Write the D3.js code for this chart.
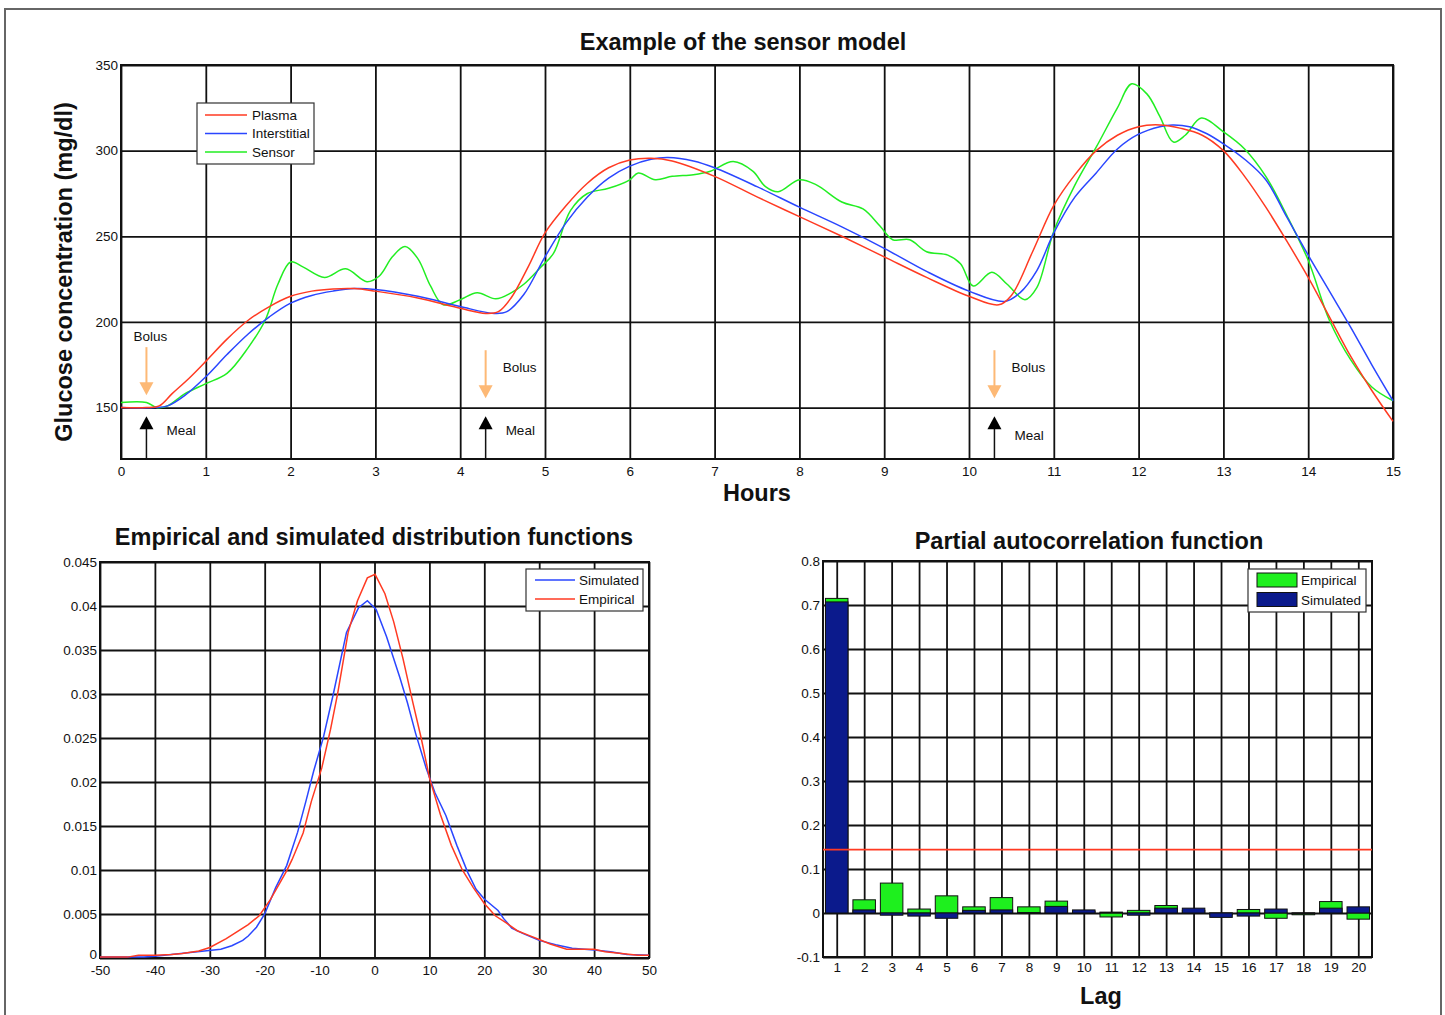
<!DOCTYPE html>
<html>
<head>
<meta charset="utf-8">
<script src="https://cdn.jsdelivr.net/npm/d3@7"></script>
<style>
  body { margin: 0; background: #fff; }
  text { font-family: "Liberation Sans", Arial, Helvetica, sans-serif; }
</style>
</head>
<body>
<div id="chart"></div>
<script>
// ---- top chart: glucose traces (hours, mg/dl)
const plasmaT = [0, 0.3, 0.45, 0.6, 0.8, 1, 1.25, 1.5, 1.75, 2, 2.25, 2.5, 2.75, 3, 3.5, 4, 4.3, 4.45, 4.6, 4.8, 5, 5.25, 5.5, 5.75, 6, 6.25, 6.5, 7, 7.5, 8, 8.5, 9, 9.5, 10, 10.35, 10.5, 10.75, 11, 11.25, 11.5, 11.75, 12, 12.25, 12.5, 12.75, 13, 13.25, 13.5, 13.75, 14, 14.25, 14.5, 14.75, 15];
const plasmaV = [150, 150, 151, 158, 167, 177, 190, 201, 209, 215, 218, 219.3, 219.5, 218, 214, 208, 205, 206, 214, 232, 252, 268, 281, 290, 294.5, 295.5, 294, 285, 273, 261.5, 250, 238, 226, 215, 210, 215.5, 241, 268, 286, 300, 309, 314, 315, 313, 309, 300, 285, 267, 247, 226, 203, 180, 160, 142];

const interT = [0, 0.4, 0.55, 0.75, 1, 1.25, 1.5, 1.75, 2, 2.25, 2.5, 2.75, 3, 3.5, 4, 4.4, 4.55, 4.75, 5, 5.25, 5.5, 5.75, 6, 6.25, 6.45, 6.75, 7, 7.5, 8, 8.5, 9, 9.5, 10, 10.42, 10.6, 10.8, 11, 11.25, 11.5, 11.75, 12, 12.25, 12.4, 12.6, 12.8, 13, 13.25, 13.5, 13.75, 14, 14.25, 14.5, 14.75, 15];
const interV = [150, 150, 151, 157, 168, 181, 193, 203, 211, 215.5, 218, 219.5, 219, 215, 209, 205, 206, 216, 238, 258, 273, 284, 291, 295, 296, 294, 290, 279, 267, 255.5, 243, 229.5, 218, 212, 217, 230, 252, 273, 287, 301, 309.6, 314, 315, 314, 310, 304, 295, 283, 261, 239, 218, 197, 175, 154];

const sensorT = [0, 0.3, 0.42, 0.55, 0.75, 1, 1.25, 1.5, 1.7, 1.85, 2, 2.15, 2.4, 2.65, 2.9, 3.05, 3.2, 3.35, 3.5, 3.65, 3.8, 4.0, 4.2, 4.42, 4.6, 4.75, 4.95, 5.1, 5.3, 5.5, 5.75, 6.0, 6.1, 6.3, 6.5, 6.75, 6.95, 7.22, 7.45, 7.6, 7.75, 8.0, 8.2, 8.5, 8.75, 8.95, 9.1, 9.3, 9.5, 9.75, 9.9, 10.05, 10.27, 10.45, 10.66, 10.8, 11, 11.25, 11.5, 11.75, 11.92, 12.1, 12.25, 12.41, 12.55, 12.74, 13, 13.25, 13.5, 13.75, 14, 14.25, 14.5, 14.75, 15];
const sensorV = [153, 153, 150, 151, 158, 164, 170, 185, 201, 222, 235, 232, 226, 231, 223.5, 227, 238, 244, 237, 221, 210, 213, 217, 213.5, 217, 222, 232, 240, 265, 275, 278, 283, 287, 283, 285, 286, 288, 293.6, 288, 279, 276, 283, 280, 270, 266, 256, 248, 248, 241, 239, 234, 221, 229, 222, 213, 220, 253, 280, 302, 325, 339, 333, 320, 305, 309, 319, 311, 301, 285, 262, 236, 201, 178, 162, 154];

const hourTicks = d3.range(0, 16);
const glucoseTicks = [150, 200, 250, 300, 350];
const eventHours = [0.3, 4.3, 10.3];

// ---- bottom left: distribution functions
const empX = [-50, -45, -43, -40, -37, -35, -32, -30, -27, -25, -23, -21, -19, -17, -16, -15, -13, -11.5, -9.6, -8, -6.7, -4.8, -3.1, -1.3, 0.1, 1.9, 3.5, 5.2, 7, 8.5, 10, 12, 14, 16, 18, 20, 22, 24, 26, 28, 30, 32, 35, 37, 40, 42, 45, 48, 50];
const empY = [0.0001, 0.0001, 0.0003, 0.0003, 0.0004, 0.0005, 0.0008, 0.0012, 0.0022, 0.003, 0.0038, 0.0048, 0.0066, 0.0088, 0.0099, 0.0112, 0.0142, 0.0178, 0.0216, 0.026, 0.0301, 0.037, 0.0406, 0.0432, 0.0436, 0.0414, 0.0382, 0.034, 0.029, 0.025, 0.0205, 0.0163, 0.0128, 0.0100, 0.0080, 0.0062, 0.0048, 0.0040, 0.0031, 0.0026, 0.0021, 0.0016, 0.001, 0.001, 0.001, 0.0007, 0.0005, 0.0003, 0.0003];
const simX = [-50, -45, -42, -40, -37, -34, -31, -28, -26, -24, -23, -21.5, -20, -18, -16, -14, -12.5, -11.1, -9.3, -7.5, -5.1, -2.9, -1.3, 0.3, 2.2, 4.6, 6, 7.5, 9.4, 11, 13, 15, 17, 18.5, 20, 22.5, 23.5, 25, 27, 30, 33, 36, 40, 43, 46, 50];
const simY = [0.0001, 0.0001, 0.0001, 0.0002, 0.0004, 0.0006, 0.0008, 0.001, 0.0014, 0.002, 0.0025, 0.0035, 0.005, 0.008, 0.0105, 0.0143, 0.0178, 0.0212, 0.0251, 0.03, 0.037, 0.0398, 0.0406, 0.0396, 0.0365, 0.0319, 0.029, 0.0255, 0.0216, 0.0188, 0.0162, 0.0128, 0.0097, 0.0078, 0.0067, 0.0054, 0.0045, 0.0034, 0.0028, 0.002, 0.0015, 0.0011, 0.0009, 0.0007, 0.0004, 0.0003];
const errTicks = d3.range(-50, 51, 10);
const densTicks = d3.range(0, 10).map(i => i * 0.005);

// ---- bottom right: partial autocorrelation
const lags = d3.range(1, 21);
const pacfEmpirical = [0.715, 0.030, 0.068, 0.009, 0.039, 0.014, 0.035, 0.014, 0.027, 0.004, -0.009, 0.006, 0.017, 0.006, -0.004, 0.008, -0.012, -0.004, 0.026, -0.014];
const pacfSimulated = [0.707, 0.007, -0.005, -0.007, -0.012, 0.006, 0.007, 0.001, 0.015, 0.007, 0.002, -0.005, 0.011, 0.011, -0.010, -0.007, 0.009, -0.002, 0.011, 0.014];
const pacfBound = 0.144;
const pacfTicks = d3.range(-1, 9).map(i => i / 10);

const RED = '#ff3a22', BLUE = '#2a46ff', GREEN = '#22ee22';
const BAR_GREEN = '#1ef01e', BAR_BLUE = '#0b1a8c', ORANGE = '#fdb976';

const svg = d3.select('#chart').append('svg')
  .attr('width', 1445)
  .attr('height', 1015);

svg.append('rect').attr('width', 1445).attr('height', 1015).style('fill', '#fff');
svg.append('rect')
  .attr('x', 5).attr('y', 9)
  .attr('width', 1436).attr('height', 1014)
  .style('fill', 'none').style('stroke', '#666').style('stroke-width', 2);

function num(d) { return String(+d.toFixed(4)); }

// draws grid through the axes, labels and the frame
function gridPanel(left, top, w, h, x, y, xTicks, yTicks, xPad) {
  const g = svg.append('g').attr('transform', `translate(${left},${top})`);
  const gx = g.append('g')
    .attr('transform', `translate(0,${h})`)
    .call(d3.axisBottom(x).tickValues(xTicks).tickSize(-h).tickPadding(xPad).tickFormat(num));
  const gy = g.append('g')
    .call(d3.axisLeft(y).tickValues(yTicks).tickSize(-w).tickPadding(3).tickFormat(num));
  [gx, gy].forEach(a => {
    a.select('.domain').remove();
    a.selectAll('line').style('stroke', '#111').style('stroke-width', 1.8);
    a.selectAll('text').style('font-size', '13.5px').style('fill', '#111')
      .style('font-family', '"Liberation Sans", Arial, sans-serif');
  });
  g.append('rect')
    .attr('width', w).attr('height', h)
    .style('fill', 'none').style('stroke', '#111').style('stroke-width', 2);
  g.yAxis = gy;
  return g;
}

function boldText(x, y, s, rotate) {
  const t = svg.append('text')
    .attr('text-anchor', 'middle')
    .style('font-size', '23.5px').style('font-weight', 'bold').style('fill', '#111')
    .text(s);
  if (rotate) t.attr('transform', `translate(${x},${y}) rotate(-90)`);
  else t.attr('x', x).attr('y', y);
}

function legend(x, y, w, h) {
  const g = svg.append('g').attr('transform', `translate(${x},${y})`);
  g.append('rect').attr('width', w).attr('height', h)
    .style('fill', '#fff').style('stroke', '#333').style('stroke-width', 1.2);
  return g;
}

// ================= top chart =================
{
  const left = 121, top = 65, w = 1272, h = 394;
  const x = d3.scaleLinear().domain([0, 15]).range([0, w]);
  const y = d3.scaleLinear().domain([120, 350]).range([h, 0]);
  const g = gridPanel(left, top, w, h, x, y, hourTicks, glucoseTicks, 7);

  const line = d3.line()
    .x(d => x(d[0]))
    .y(d => y(d[1]))
    .curve(d3.curveCatmullRom.alpha(0.5));

  const series = [
    { t: sensorT, v: sensorV, c: GREEN },
    { t: interT, v: interV, c: BLUE },
    { t: plasmaT, v: plasmaV, c: RED }
  ];
  series.forEach(s => {
    g.append('path')
      .attr('d', line(d3.zip(s.t, s.v)))
      .style('fill', 'none').style('stroke', s.c).style('stroke-width', 1.5);
  });

  // bolus / meal arrows
  eventHours.forEach((hr, i) => {
    const ax = x(hr);
    const bTop = i === 0 ? y(185.3) : y(183.5);
    const bTip = i === 0 ? y(157.2) : y(155.4);
    g.append('line').attr('x1', ax).attr('x2', ax).attr('y1', bTop).attr('y2', bTip - 10)
      .style('stroke', ORANGE).style('stroke-width', 2);
    g.append('path')
      .attr('d', `M${ax - 7},${bTip - 13}L${ax + 7},${bTip - 13}L${ax},${bTip}Z`)
      .style('fill', ORANGE);
    const mTip = y(145);
    g.append('line').attr('x1', ax).attr('x2', ax).attr('y1', h).attr('y2', mTip + 10)
      .style('stroke', '#111').style('stroke-width', 1.5);
    g.append('path')
      .attr('d', `M${ax - 7},${mTip + 13}L${ax + 7},${mTip + 13}L${ax},${mTip}Z`)
      .style('fill', '#000');

    const bx = i === 0 ? ax - 13 : ax + 17;
    const by = i === 0 ? bTop - 6 : y(170.5);
    g.append('text').attr('x', bx).attr('y', by).style('font-size', '13.5px').style('fill', '#111').text('Bolus');
    g.append('text').attr('x', ax + 20).attr('y', i === 2 ? y(131) : y(134))
      .style('font-size', '13.5px').style('fill', '#111').text('Meal');
  });

  const lg = legend(197, 103, 117, 61);
  [['Plasma', RED], ['Interstitial', BLUE], ['Sensor', GREEN]].forEach((d, i) => {
    const ly = 12 + i * 18.5;
    lg.append('line').attr('x1', 8).attr('x2', 50).attr('y1', ly).attr('y2', ly)
      .style('stroke', d[1]).style('stroke-width', 1.3);
    lg.append('text').attr('x', 55).attr('y', ly + 4.5).style('font-size', '13.5px').style('fill', '#111').text(d[0]);
  });

  boldText(743, 50, 'Example of the sensor model');
  boldText(757, 501, 'Hours');
  boldText(72, 272, 'Glucose concentration (mg/dl)', true);
}

// ================= distribution functions =================
{
  const left = 100, top = 562, w = 549, h = 396;
  const x = d3.scaleLinear().domain([-50, 50]).range([0, w]);
  const y = d3.scaleLinear().domain([0, 0.045]).range([h, 0]);
  const g = gridPanel(left, top, w, h, x, y, errTicks, densTicks, 7);
  // lift the "0" label a little so it clears the "-50" below it
  g.yAxis.selectAll('.tick text').filter(d => d === 0).attr('dy', '0.05em');

  const line = d3.line().x(d => x(d[0])).y(d => y(d[1]));
  g.append('path').attr('d', line(d3.zip(simX, simY)))
    .style('fill', 'none').style('stroke', BLUE).style('stroke-width', 1.5);
  g.append('path').attr('d', line(d3.zip(empX, empY)))
    .style('fill', 'none').style('stroke', RED).style('stroke-width', 1.5);

  const lg = legend(526, 569, 117, 42);
  [['Simulated', BLUE], ['Empirical', RED]].forEach((d, i) => {
    const ly = 11 + i * 19;
    lg.append('line').attr('x1', 9).attr('x2', 49).attr('y1', ly).attr('y2', ly)
      .style('stroke', d[1]).style('stroke-width', 1.3);
    lg.append('text').attr('x', 53).attr('y', ly + 4.5).style('font-size', '13.5px').style('fill', '#111').text(d[0]);
  });

  boldText(374, 545, 'Empirical and simulated distribution functions');
}

// ================= partial autocorrelation =================
{
  const left = 823, top = 561, w = 549, h = 396;
  const x = d3.scaleLinear().domain([0.5, 20.5]).range([0, w]);
  const y = d3.scaleLinear().domain([-0.1, 0.8]).range([h, 0]);
  const g = gridPanel(left, top, w, h, x, y, lags, pacfTicks, 5);

  const half = 0.41;
  [[pacfEmpirical, BAR_GREEN], [pacfSimulated, BAR_BLUE]].forEach(([vals, col]) => {
    g.selectAll(null).data(vals).enter().append('rect')
      .attr('x', (d, i) => x(lags[i] - half))
      .attr('width', (d, i) => x(lags[i] + half) - x(lags[i] - half))
      .attr('y', d => y(Math.max(d, 0)))
      .attr('height', d => Math.abs(y(d) - y(0)))
      .style('fill', col).style('stroke', '#111').style('stroke-width', 1);
  });

  g.append('line')
    .attr('x1', 0).attr('x2', w)
    .attr('y1', y(pacfBound)).attr('y2', y(pacfBound))
    .style('stroke', RED).style('stroke-width', 1.6);

  const lg = legend(1248, 569, 118, 43);
  [['Empirical', BAR_GREEN], ['Simulated', BAR_BLUE]].forEach((d, i) => {
    const ly = 4 + i * 19.5;
    lg.append('rect').attr('x', 9).attr('y', ly).attr('width', 40).attr('height', 14)
      .style('fill', d[1]).style('stroke', '#111').style('stroke-width', 1);
    lg.append('text').attr('x', 53).attr('y', ly + 12).style('font-size', '13.5px').style('fill', '#111').text(d[0]);
  });

  boldText(1089, 549, 'Partial autocorrelation function');
  boldText(1101, 1004, 'Lag');
}
</script>
</body>
</html>
